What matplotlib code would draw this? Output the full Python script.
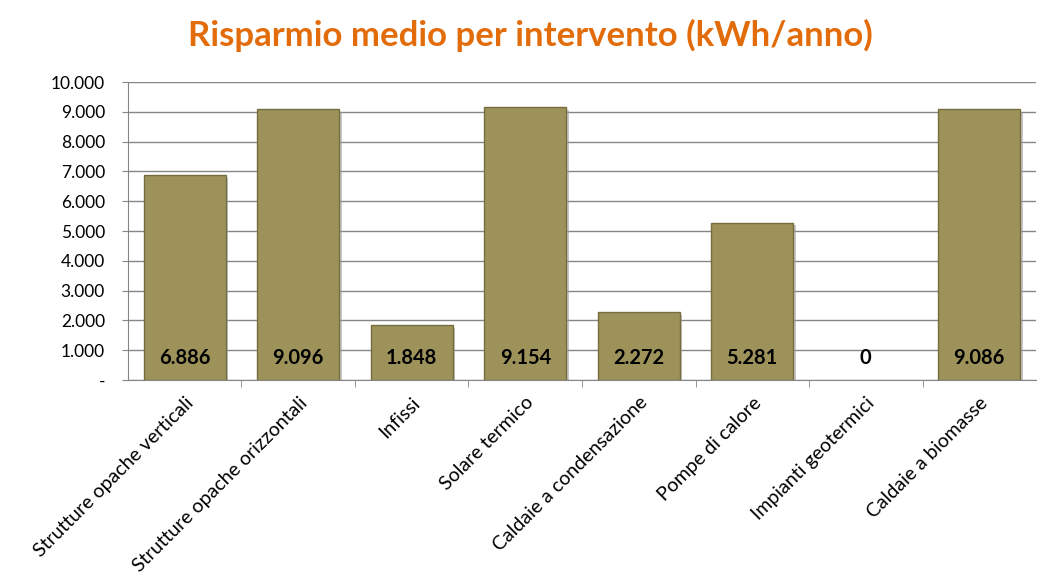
import numpy as np
import matplotlib.pyplot as plt
import matplotlib.patheffects as pe
from matplotlib.ticker import FuncFormatter

categories = ['Strutture opache verticali', 'Strutture opache orizzontali', 'Infissi',
              'Solare termico', 'Caldaie a condensazione', 'Pompe di calore',
              'Impianti geotermici', 'Caldaie a biomasse']
values = [6886, 9096, 1848, 9154, 2272, 5281, 0, 9086]
value_labels = ['6.886', '9.096', '1.848', '9.154', '2.272', '5.281', '0', '9.086']

plt.rcParams['font.family'] = ['Lato', 'DejaVu Sans']

fig = plt.figure(figsize=(10.61, 5.83), dpi=100)
ax = fig.add_axes([0.1206, 0.3482, 0.8559, 0.5111])

x = np.arange(len(categories))
bars = ax.bar(x, values, width=0.72, color='#9c925a', edgecolor='#766d3e', linewidth=1.0, zorder=3)
for b, v in zip(bars, values):
    if v == 0:
        b.set_visible(False)
        continue
    b.set_path_effects([pe.SimplePatchShadow(offset=(2, -2), shadow_rgbFace='#a0a0a0', alpha=0.6), pe.Normal()])

for xi, lab in zip(x, value_labels):
    ax.text(xi, 750, lab, ha='center', va='center', fontsize=14.5, fontweight='bold', color='black', zorder=5)

ax.set_xlim(-0.5, len(categories) - 0.5)
ax.set_ylim(0, 10000)
ax.set_yticks(np.arange(0, 10001, 1000))
ax.yaxis.set_major_formatter(FuncFormatter(lambda v, p: '-' if v == 0 else f'{int(v):,}'.replace(',', '.')))
ax.yaxis.grid(True, color='#868686', linewidth=1.0, zorder=0)
ax.set_axisbelow(True)

ax.set_xticks(x)
ax.set_xticklabels(categories, rotation=45, ha='right', rotation_mode='anchor', fontsize=14)
ax.set_xticks(np.arange(0.5, len(categories) - 0.5, 1), minor=True)
ax.tick_params(axis='x', which='major', length=0, pad=10)
ax.tick_params(axis='x', which='minor', length=5, color='#868686', direction='out')
ax.tick_params(axis='y', length=4.5, color='#868686', labelsize=12.5, pad=12)

for s in ['top', 'right']:
    ax.spines[s].set_visible(False)
ax.spines['left'].set_color('#868686')
ax.spines['bottom'].set_color('#868686')

fig.text(0.5, 0.94, 'Risparmio medio per intervento (kWh/anno)', ha='center', va='center',
         fontsize=25, fontweight='bold', color='#e36c0a')

fig.savefig('out.png', dpi=100)
